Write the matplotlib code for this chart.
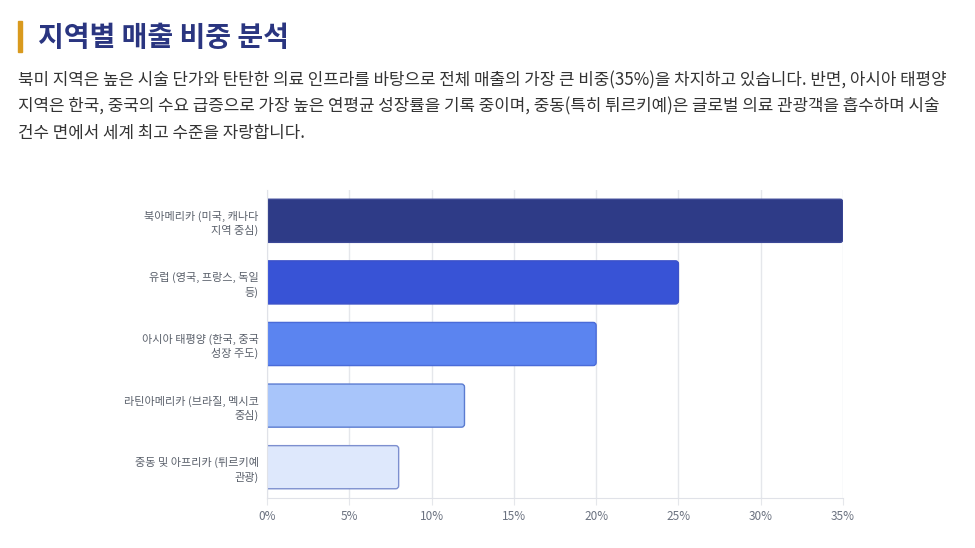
import matplotlib
matplotlib.use("Agg")
import matplotlib.pyplot as plt
from matplotlib.patches import FancyBboxPatch
from matplotlib.ticker import FuncFormatter

plt.rcParams['font.family'] = ['Noto Sans CJK KR', 'DejaVu Sans']

# data
regions = [
    "북아메리카 (미국, 캐나다\n지역 중심)",
    "유럽 (영국, 프랑스, 독일\n등)",
    "아시아 태평양 (한국, 중국\n성장 주도)",
    "라틴아메리카 (브라질, 멕시코\n중심)",
    "중동 및 아프리카 (튀르키예\n관광)",
]
share = [35, 25, 20, 12, 8]
bar_colors = ["#2e3b87", "#3853d6", "#5b84f0", "#a8c5fa", "#dee8fc"]
edge_colors = ["#3b4796", "#3c52c9", "#4a6bd8", "#5b7cd0", "#7d8fcf"]
x_ticks = [0, 5, 10, 15, 20, 25, 30, 35]

title = "지역별 매출 비중 분석"
desc_lines = [
    "북미 지역은 높은 시술 단가와 탄탄한 의료 인프라를 바탕으로 전체 매출의 가장 큰 비중(35%)을 차지하고 있습니다. 반면, 아시아 태평양",
    "지역은 한국, 중국의 수요 급증으로 가장 높은 연평균 성장률을 기록 중이며, 중동(특히 튀르키예)은 글로벌 의료 관광객을 흡수하며 시술",
    "건수 면에서 세계 최고 수준을 자랑합니다.",
]

W, H = 975, 548
fig = plt.figure(figsize=(W / 100, H / 100), dpi=100)
fig.patch.set_facecolor("white")

# header
fig.patches.append(plt.Rectangle((18 / W, 1 - 52 / H), 4 / W, 31 / H,
                                 transform=fig.transFigure, color="#d99a1e"))
fig.text(38 / W, 1 - 38 / H, title, fontsize=20.2, fontweight="bold",
         color="#2a3580", va="center", ha="left")
for i, line in enumerate(desc_lines):
    fig.text(18 / W, 1 - (80 + i * 26.5) / H, line, fontsize=12.15,
             color="#333333", va="center", ha="left")

# chart
ax_l, ax_r, ax_t, ax_b = 267, 843, 190, 498
ax = fig.add_axes([ax_l / W, 1 - ax_b / H, (ax_r - ax_l) / W, (ax_b - ax_t) / H])
ypos = list(range(len(regions)))
bars = ax.barh(ypos, share, height=0.7, color=bar_colors, edgecolor=edge_colors,
               linewidth=1, zorder=3)
ax.set_ylim(len(regions) - 0.5, -0.5)
ax.set_xlim(0, 35)

# rounded bar ends: swap each rectangle for a rounded box with the same geometry
px_x = (ax_r - ax_l) / 35
px_y = (ax_b - ax_t) / len(regions)
r = 3 / px_x
for b in bars:
    b.set_visible(False)
    x0, y0, w, h = b.get_x(), b.get_y(), b.get_width(), b.get_height()
    ax.add_patch(FancyBboxPatch((x0 - 1, y0), w + 1, h,
                                boxstyle=f"round,pad=0,rounding_size={r}",
                                mutation_aspect=px_x / px_y,
                                facecolor=b.get_facecolor(),
                                edgecolor=b.get_edgecolor(),
                                linewidth=1, zorder=3, clip_on=True))

ax.set_yticks(ypos)
ax.set_yticklabels(regions, fontsize=8, color="#5a606b", linespacing=1.35)
ax.set_xticks(x_ticks)
ax.xaxis.set_major_formatter(FuncFormatter(lambda v, p: f"{v:.0f}%"))
ax.tick_params(axis="x", labelsize=8.5, labelcolor="#6b7280", length=5,
               color="#e5e7eb", pad=4)
ax.tick_params(axis="y", length=0, pad=6)
ax.grid(axis="x", color="#e5e7eb", linewidth=1, zorder=0)
for s in ["top", "right"]:
    ax.spines[s].set_visible(False)
for s in ["left", "bottom"]:
    ax.spines[s].set_color("#e0e2e8")
    ax.spines[s].set_zorder(4)

fig.savefig("out.png", dpi=100)
